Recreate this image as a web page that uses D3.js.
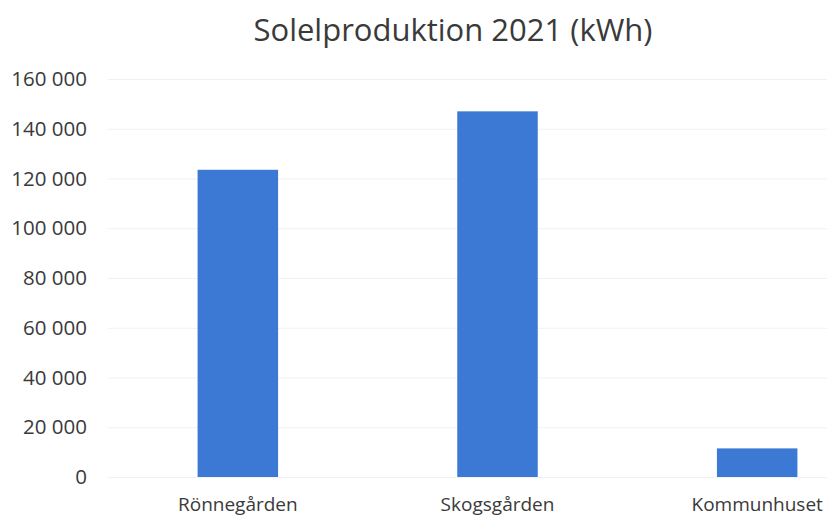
<!DOCTYPE html>
<html lang="sv">
<head>
  <meta charset="utf-8">
  <title>Solelproduktion 2021</title>
  <script src="https://cdn.jsdelivr.net/npm/d3@7"></script>
  <style>
    body { margin: 0; background: #fff; }
    text { font-family: "Open Sans", sans-serif; fill: #3a3a3a; }
    .grid line { stroke: #f1f1f1; stroke-width: 1; }
    .grid path { display: none; }
    .axis path, .axis line { display: none; }
  </style>
</head>
<body>
<script>
  var sites = ["Rönnegården", "Skogsgården", "Kommunhuset"];
  var production = [123500, 147000, 11500];
  var yTicks = [0, 20000, 40000, 60000, 80000, 100000, 120000, 140000, 160000];

  var W = 827, H = 517;
  var margin = { top: 79, right: -60, bottom: 40, left: 108 };
  var width = W - margin.left - margin.right,
      height = H - margin.top - margin.bottom;

  var svg = d3.select("body").append("svg")
    .attr("width", W)
    .attr("height", H);

  var g = svg.append("g")
    .attr("transform", "translate(" + margin.left + "," + margin.top + ")");

  var x = d3.scaleBand().domain(sites).range([0, width]).paddingInner(0.69).paddingOuter(0.345);
  var y = d3.scaleLinear().domain([0, 160000]).range([height, 0]);

  var fmt = function(d) { return d3.format(",")(d).replace(/,/g, " "); };

  // faint gridlines
  g.append("g")
    .attr("class", "grid")
    .call(d3.axisLeft(y).tickValues(yTicks).tickSize(-width).tickFormat(""));

  // y axis labels
  g.append("g")
    .attr("class", "axis")
    .call(d3.axisLeft(y).tickValues(yTicks).tickFormat(fmt).tickSize(0).tickPadding(21))
    .selectAll("text")
    .style("font-size", "20.5px");

  // x axis labels
  g.append("g")
    .attr("class", "axis")
    .attr("transform", "translate(0," + height + ")")
    .call(d3.axisBottom(x).tickSize(0).tickPadding(21))
    .selectAll("text")
    .style("font-size", "19px");

  g.selectAll(".bar")
    .data(production)
    .enter().append("rect")
    .attr("class", "bar")
    .attr("x", function(d, i) { return x(sites[i]); })
    .attr("width", x.bandwidth())
    .attr("y", function(d) { return y(d); })
    .attr("height", function(d) { return height - y(d); })
    .attr("fill", "#3b79d5");

  svg.append("text")
    .attr("x", 453)
    .attr("y", 41)
    .attr("text-anchor", "middle")
    .style("font-size", "31px")
    .text("Solelproduktion 2021 (kWh)");
</script>
</body>
</html>
